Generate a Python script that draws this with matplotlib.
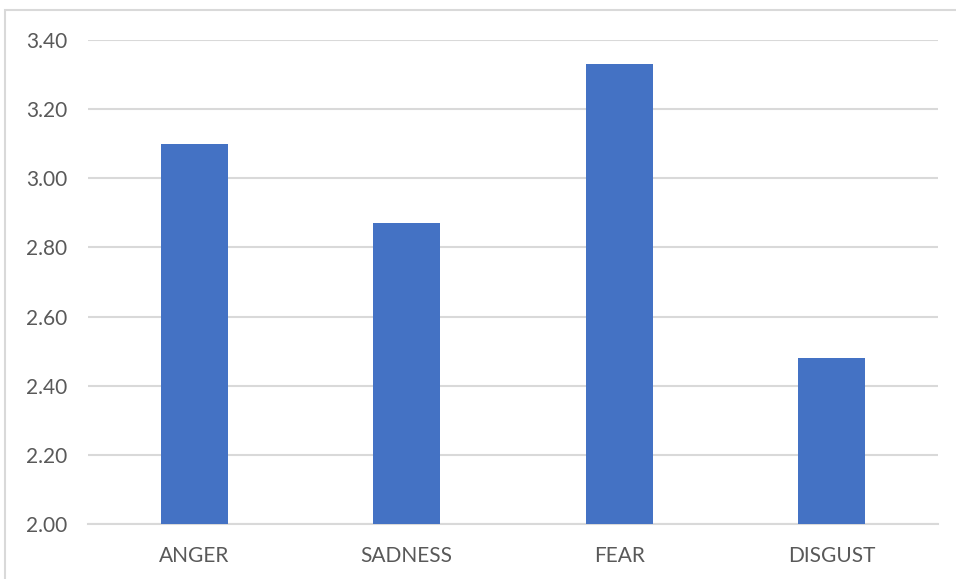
import matplotlib.pyplot as plt
from matplotlib.patches import Rectangle

categories = ["ANGER", "SADNESS", "FEAR", "DISGUST"]
scores = [3.10, 2.87, 3.33, 2.48]
yticks = [2.00, 2.20, 2.40, 2.60, 2.80, 3.00, 3.20, 3.40]

plt.rcParams['font.family'] = ['Lato', 'DejaVu Sans']

fig = plt.figure(figsize=(9.56, 5.79), dpi=100)
ax = fig.add_axes([88 / 956, 1 - 524 / 579, 850 / 956, 484 / 579])

# light chart-area frame
fig.patches.append(Rectangle((5 / 956, -0.05), 1.0, 1 - 10 / 579 + 0.05,
                             transform=fig.transFigure, fill=False,
                             edgecolor='#d9d9d9', linewidth=1.5))

x = range(len(categories))
ax.bar(x, [s - 2.0 for s in scores], bottom=2.0, width=0.315,
       color='#4472c4', zorder=3)

ax.set_xlim(-0.5, len(categories) - 0.5)
ax.set_ylim(2.0, 3.4)
ax.set_yticks(yticks)
ax.set_yticklabels([f"{t:.2f}" for t in yticks])
ax.set_xticks(list(x))
ax.set_xticklabels(categories)

ax.grid(axis='y', color='#d9d9d9', linewidth=1.5, zorder=0)
for side in ['top', 'right', 'left']:
    ax.spines[side].set_visible(False)
ax.spines['bottom'].set_color('#d9d9d9')
ax.spines['bottom'].set_linewidth(1.5)
ax.tick_params(axis='both', length=0, labelsize=15, colors='#595959')
ax.tick_params(axis='y', pad=15)
ax.tick_params(axis='x', pad=16)

fig.savefig('out.png', dpi=100)
